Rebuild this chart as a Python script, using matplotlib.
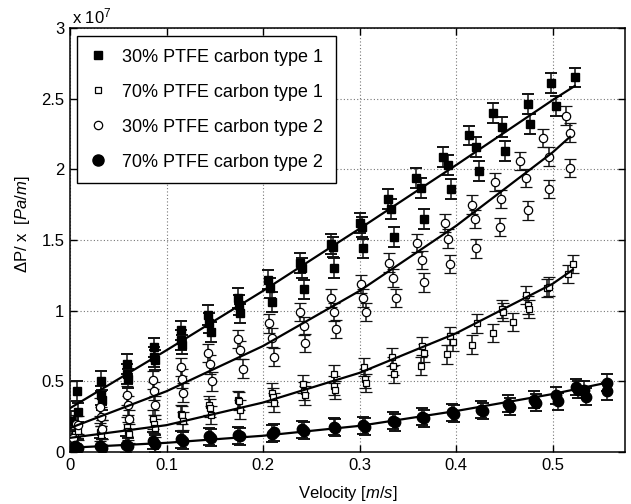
import matplotlib
matplotlib.use("Agg")
import matplotlib.pyplot as plt
from matplotlib.lines import Line2D

plt.rcParams['font.family'] = ['Liberation Sans', 'DejaVu Sans']
plt.rcParams['mathtext.fontset'] = 'custom'
plt.rcParams['mathtext.rm'] = 'Liberation Sans'
plt.rcParams['mathtext.it'] = 'Liberation Sans:italic'

# ---- data (pressure gradient in units of 1e7 Pa/m) ----
labels = ["30% PTFE carbon type 1", "70% PTFE carbon type 1",
          "30% PTFE carbon type 2", "70% PTFE carbon type 2"]

v1 = [0.001, 0.007, 0.008, 0.032, 0.032, 0.033, 0.059, 0.059, 0.060,
      0.087, 0.087, 0.088, 0.115, 0.115, 0.116, 0.143, 0.144, 0.146,
      0.174, 0.175, 0.176, 0.205, 0.207, 0.209, 0.238, 0.240, 0.242,
      0.270, 0.272, 0.274, 0.300, 0.303, 0.304, 0.329, 0.333, 0.336,
      0.358, 0.364, 0.367, 0.386, 0.392, 0.395, 0.413, 0.421, 0.424,
      0.438, 0.448, 0.451, 0.474, 0.477, 0.498, 0.504, 0.523]
p1 = [0.22, 0.43, 0.28, 0.50, 0.40, 0.37, 0.62, 0.55, 0.52,
      0.74, 0.67, 0.65, 0.86, 0.79, 0.76, 0.97, 0.91, 0.85,
      1.09, 1.04, 0.98, 1.22, 1.16, 1.06, 1.34, 1.30, 1.15,
      1.47, 1.45, 1.30, 1.62, 1.59, 1.44, 1.79, 1.72, 1.52,
      1.94, 1.87, 1.65, 2.09, 2.03, 1.86, 2.24, 2.16, 1.99,
      2.40, 2.30, 2.13, 2.46, 2.32, 2.61, 2.45, 2.65]
e1 = 0.07

v2 = [0.002, 0.005, 0.008, 0.031, 0.032, 0.033, 0.059, 0.060, 0.061,
      0.086, 0.087, 0.088, 0.115, 0.116, 0.117, 0.144, 0.145, 0.146,
      0.174, 0.175, 0.176, 0.209, 0.210, 0.211, 0.241, 0.242, 0.243,
      0.273, 0.274, 0.275, 0.305, 0.306, 0.307, 0.334, 0.335, 0.336,
      0.364, 0.365, 0.367, 0.391, 0.394, 0.397, 0.416, 0.422, 0.438,
      0.448, 0.449, 0.459, 0.472, 0.474, 0.476, 0.494, 0.496, 0.516, 0.521]
p2 = [0.10, 0.13, 0.15, 0.14, 0.12, 0.16, 0.18, 0.15, 0.13,
      0.23, 0.20, 0.17, 0.27, 0.26, 0.22, 0.33, 0.31, 0.26,
      0.37, 0.36, 0.30, 0.42, 0.39, 0.35, 0.48, 0.43, 0.40,
      0.55, 0.47, 0.44, 0.60, 0.52, 0.49, 0.67, 0.61, 0.55,
      0.61, 0.75, 0.70, 0.69, 0.82, 0.78, 0.76, 0.91, 0.84,
      1.01, 0.99, 0.92, 1.11, 1.04, 1.01, 1.16, 1.17, 1.26, 1.33]
e2 = 0.065

v3 = [0.003, 0.006, 0.008, 0.031, 0.032, 0.033, 0.059, 0.060, 0.061,
      0.086, 0.087, 0.088, 0.115, 0.116, 0.117, 0.143, 0.145, 0.147,
      0.174, 0.176, 0.179, 0.206, 0.209, 0.211, 0.238, 0.242, 0.243,
      0.270, 0.273, 0.276, 0.301, 0.304, 0.307, 0.331, 0.335, 0.338,
      0.360, 0.365, 0.367, 0.388, 0.392, 0.394, 0.416, 0.420, 0.421,
      0.440, 0.447, 0.445, 0.466, 0.472, 0.475, 0.490, 0.496, 0.496,
      0.514, 0.518, 0.518]
p3 = [0.10, 0.20, 0.19, 0.32, 0.25, 0.16, 0.40, 0.33, 0.23,
      0.51, 0.43, 0.33, 0.60, 0.52, 0.42, 0.70, 0.62, 0.50,
      0.80, 0.72, 0.59, 0.91, 0.81, 0.67, 0.99, 0.89, 0.77,
      1.09, 0.99, 0.87, 1.19, 1.09, 0.99, 1.34, 1.23, 1.09,
      1.48, 1.36, 1.20, 1.62, 1.51, 1.33, 1.75, 1.65, 1.44,
      1.91, 1.79, 1.59, 2.06, 1.94, 1.71, 2.22, 2.09, 1.86,
      2.38, 2.26, 2.01]
e3 = 0.065

v4 = [0.002, 0.005, 0.008, 0.031, 0.033, 0.058, 0.060, 0.086, 0.088,
      0.115, 0.117, 0.144, 0.146, 0.174, 0.176, 0.209, 0.211, 0.240,
      0.242, 0.273, 0.275, 0.304, 0.306, 0.335, 0.337, 0.365, 0.367,
      0.396, 0.398, 0.426, 0.428, 0.454, 0.456, 0.481, 0.483, 0.504,
      0.506, 0.524, 0.526, 0.533, 0.535, 0.556, 0.556]
p4 = [0.02, 0.04, 0.03, 0.04, 0.03, 0.05, 0.04, 0.08, 0.06,
      0.09, 0.08, 0.11, 0.10, 0.12, 0.11, 0.13, 0.14, 0.16,
      0.15, 0.18, 0.17, 0.19, 0.18, 0.22, 0.21, 0.25, 0.24,
      0.28, 0.27, 0.30, 0.29, 0.34, 0.32, 0.37, 0.35, 0.40,
      0.36, 0.46, 0.44, 0.44, 0.39, 0.49, 0.43]
e4 = 0.06

# fitted curves
f1_v = [0.0, 0.1, 0.2, 0.3, 0.4, 0.5, 0.523]
f1_p = [0.31, 0.72, 1.14, 1.58, 2.03, 2.49, 2.59]
f2_v = [0.0, 0.1, 0.2, 0.3, 0.4, 0.5, 0.521]
f2_p = [0.10, 0.19, 0.35, 0.56, 0.84, 1.19, 1.29]
f3_v = [0.0, 0.1, 0.2, 0.3, 0.4, 0.5, 0.518]
f3_p = [0.17, 0.43, 0.75, 1.14, 1.60, 2.12, 2.23]
f4_v = [0.0, 0.1, 0.2, 0.3, 0.4, 0.5, 0.556]
f4_p = [0.03, 0.065, 0.115, 0.185, 0.29, 0.41, 0.49]

xticks = [0, 0.1, 0.2, 0.3, 0.4, 0.5]
xticklabels = ["0", "0.1", "0.2", "0.3", "0.4", "0.5"]
yticks = [0, 0.5, 1, 1.5, 2, 2.5, 3]
yticklabels = ["0", "0.5", "1", "1.5", "2", "2.5", "3"]

# ---- figure ----
W, H = 631, 504
fig = plt.figure(figsize=(W / 100, H / 100), dpi=100)
ax = fig.add_axes([70 / W, 1 - 452 / H, 555 / W, 424 / H])

ebkw = dict(ecolor='#111111', elinewidth=1.1, capsize=4, capthick=1.4, linestyle='none', zorder=3)

series = [
    (v1, p1, e1, dict(marker='s', ms=5.5, mfc='black', mec='black')),
    (v2, p2, e2, dict(marker='s', ms=5, mfc='white', mec='black', mew=0.9)),
    (v3, p3, e3, dict(marker='o', ms=6, mfc='white', mec='black', mew=0.9)),
    (v4, p4, e4, dict(marker='o', ms=7.5, mfc='black', mec='black')),
]
for v, p, e, mk in series:
    ax.errorbar(v, p, yerr=e, **ebkw, **mk)

for fv, fp in [(f1_v, f1_p), (f2_v, f2_p), (f3_v, f3_p), (f4_v, f4_p)]:
    ax.plot(fv, fp, color='black', lw=1.6, zorder=4)

ax.set_xlim(0, 0.575)
ax.set_ylim(0, 3)
ax.set_xticks(xticks)
ax.set_xticklabels(xticklabels)
ax.set_yticks(yticks)
ax.set_yticklabels(yticklabels)
ax.tick_params(direction='in', length=5, width=1, top=True, right=True,
               labelsize=12, pad=4)
ax.grid(True, color='#777777', linestyle=(0, (1, 2)), linewidth=0.8)
ax.set_axisbelow(True)
for s in ax.spines.values():
    s.set_linewidth(1.1)

ax.set_xlabel("Velocity $\\mathit{[m/s]}$", fontsize=12, labelpad=8)
ax.set_ylabel("\u0394P/ x  $\\mathit{[Pa/m]}$", fontsize=12)
ax.yaxis.set_label_coords(-0.068, 0.538)

fig.text(72 / W, 1 - 23 / H, "x 10$^{7}$", fontsize=12, ha='left', va='baseline')

handles = [
    Line2D([], [], marker='s', ms=5.5, mfc='black', mec='black', ls='none'),
    Line2D([], [], marker='s', ms=5, mfc='white', mec='black', mew=0.9, ls='none'),
    Line2D([], [], marker='o', ms=6, mfc='white', mec='black', mew=0.9, ls='none'),
    Line2D([], [], marker='o', ms=8, mfc='black', mec='black', ls='none'),
]
leg = ax.legend(handles, labels, loc='upper left',
                bbox_to_anchor=((77 - 70) / 555, (452 - 36) / 424),
                fontsize=13, frameon=True, fancybox=False, framealpha=1,
                edgecolor='black', handlelength=0.9, handletextpad=0.9,
                labelspacing=1.0, borderpad=0.7, borderaxespad=0)
leg.get_frame().set_linewidth(1.0)

fig.savefig("out.png", dpi=100)
